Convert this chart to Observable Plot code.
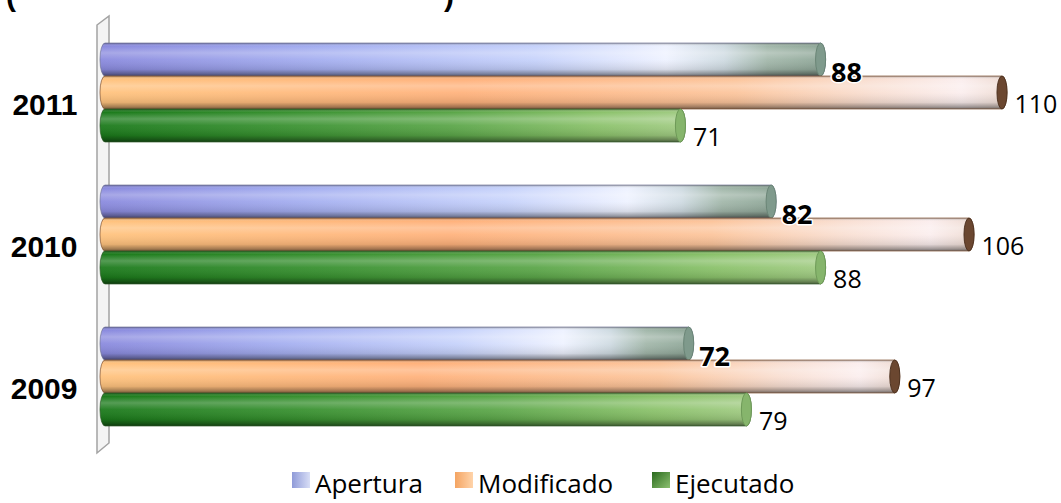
<!DOCTYPE html>
<html>
<head>
<meta charset="utf-8">
<script src="https://cdn.jsdelivr.net/npm/d3@7"></script>
<script src="https://cdn.jsdelivr.net/npm/@observablehq/plot@0.6"></script>
<style>
  html, body { margin: 0; padding: 0; background: #fff; }
  body { position: relative; width: 1061px; height: 503px; overflow: hidden; font-family: "Open Sans", sans-serif; }
  #title { position: absolute; left: 0; top: -21px; font: bold 30px "Liberation Sans", Arial, sans-serif; color: #000; white-space: pre; }
  #title span { position: absolute; top: 0; }
  #chart { position: absolute; left: 0; top: 0; }
  #legend { position: absolute; top: 466px; left: 0; width: 1061px; height: 37px; font: 26px/34px "Open Sans", sans-serif; color: #000; }
  .item { position: absolute; top: 0; display: flex; align-items: flex-start; white-space: nowrap; }
  .sw { width: 18px; height: 16px; margin-right: 5px; margin-top: 6px; }
</style>
</head>
<body>
<div id="title"><span style="left:6px">(</span><span style="left:444px">)</span></div>
<div id="chart"></div>
<div id="legend"></div>
<script>
const years = ["2011", "2010", "2009"];
const series = ["Apertura", "Modificado", "Ejecutado"];
const apertura = [88, 82, 72];
const modificado = [110, 106, 97];
const ejecutado = [71, 88, 79];

const seriesValues = {Apertura: apertura, Modificado: modificado, Ejecutado: ejecutado};
const data = [];
years.forEach((yr, i) => series.forEach(s => data.push({year: yr, series: s, value: seriesValues[s][i]})));

const ids = {Apertura: "gA", Modificado: "gM", Ejecutado: "gE"};
const caps = {Apertura: "#7f9a8c", Modificado: "#6b4730", Ejecutado: "#86b56c"};
const capStroke = {Apertura: "#6a8576", Modificado: "#4e3220", Ejecutado: "#6e9a58"};
const edge = {Apertura: "#6f7394", Modificado: "#7a4a2a", Ejecutado: "#2f5a2a"};

const W = 1061, H = 462;
const barOpts = {rx: 5, ry: 16};
const marks = [];
for (const s of series) {
  const sub = data.filter(d => d.series === s);
  marks.push(Plot.barX(sub, {x: "value", y: "series", fy: "year", fill: `url(#${ids[s]})`, ...barOpts}));
  marks.push(Plot.barX(sub, {x: "value", y: "series", fy: "year", fill: "url(#shade)", stroke: edge[s], strokeWidth: 0.9, strokeOpacity: 0.75, ...barOpts}));
  marks.push(Plot.barX(sub, {x1: "value", x2: "value", y: "series", fy: "year", insetLeft: -5, insetRight: -5, dx: -5, fill: caps[s], stroke: capStroke[s], strokeWidth: 1, ...barOpts}));
}
marks.push(Plot.text(data.filter(d => d.series === "Apertura"), {
  x: "value", y: "series", fy: "year", text: d => String(d.value),
  dx: 5, dy: 13, textAnchor: "start", fontSize: 27, fontWeight: "bold", fontFamily: "Open Sans",
  fill: "#000", stroke: "#fff", strokeWidth: 3, paintOrder: "stroke"
}));
marks.push(Plot.text(data.filter(d => d.series !== "Apertura"), {
  x: "value", y: "series", fy: "year", text: d => String(d.value),
  dx: 7, dy: 12, textAnchor: "start", fontSize: 25, fontFamily: "Open Sans", fill: "#000"
}));
marks.push(Plot.axisFy({anchor: "left", tickSize: 0, tickPadding: 23, fontSize: 30, fontWeight: "bold",
  fontFamily: "Liberation Sans, Arial, sans-serif", dy: 12, label: null}));

const plot = Plot.plot({
  width: W, height: H,
  marginLeft: 100, marginRight: 54, marginTop: 43, marginBottom: 35,
  style: {background: "transparent", overflow: "visible"},
  x: {domain: [0, 110], axis: null},
  y: {domain: series, padding: 0, axis: null},
  fy: {domain: years, paddingInner: 0.3, paddingOuter: 0, axis: null, label: null},
  marks
});
document.getElementById("chart").appendChild(plot);

// gradients
const svg = d3.select(plot);
const defs = svg.insert("defs", ":first-child");
function hgrad(id, stops) {
  const g = defs.append("linearGradient").attr("id", id).attr("x1", 0).attr("y1", 0).attr("x2", 1).attr("y2", 0);
  stops.forEach(([o, c]) => g.append("stop").attr("offset", o).attr("stop-color", c));
}
hgrad("gA", [[0, "#8a8ade"], [0.3, "#a4aef0"], [0.6, "#c6d2fb"], [0.78, "#eef2ff"], [0.86, "#cfdbe2"], [0.92, "#a3b8ab"], [1, "#8ea697"]]);
hgrad("gM", [[0, "#ffc37e"], [0.4, "#ffb27c"], [0.7, "#fcc59c"], [0.85, "#f9dfd2"], [0.95, "#fbeeee"], [1, "#efdcd3"]]);
hgrad("gE", [[0, "#1b7a1b"], [0.3, "#37902f"], [0.6, "#5ba649"], [0.85, "#8bc26b"], [1, "#a2cc84"]]);
const sh = defs.append("linearGradient").attr("id", "shade").attr("x1", 0).attr("y1", 0).attr("x2", 0).attr("y2", 1);
[[0, "#000", 0.35], [0.1, "#fff", 0.0], [0.3, "#fff", 0.25], [0.5, "#fff", 0.06], [0.8, "#000", 0.1], [0.93, "#000", 0.35], [1, "#000", 0.55]]
  .forEach(([o, c, a]) => sh.append("stop").attr("offset", o).attr("stop-color", c).attr("stop-opacity", a));

// 3D wall behind bars
const x0 = plot.scale("x").apply(0);
const wallTop = 43 - 27, wallBot = H - 35 + 26;
const defsNode = plot.querySelector("defs");
const wall = document.createElementNS("http://www.w3.org/2000/svg", "path");
wall.setAttribute("d", `M${x0 - 3},${wallTop + 9} L${x0 + 9},${wallTop} L${x0 + 9},${wallBot - 10} L${x0 - 3},${wallBot} Z`);
wall.setAttribute("fill", "#f4f4f4");
wall.setAttribute("stroke", "#a3a3a3");
wall.setAttribute("stroke-width", "1.5");
defsNode.after(wall);

// legend
const swatch = {
  Apertura: "linear-gradient(90deg, #8f9ad8, #d8def6)",
  Modificado: "linear-gradient(90deg, #f4a462, #ffd4aa)",
  Ejecutado: "linear-gradient(135deg, #2a6a1e, #8cc070)"
};
const legendLeft = {Apertura: 292, Modificado: 455, Ejecutado: 652};
const lg = document.getElementById("legend");
series.forEach(s => {
  const it = document.createElement("div"); it.className = "item"; it.style.left = legendLeft[s] + "px";
  const sw = document.createElement("div"); sw.className = "sw"; sw.style.background = swatch[s];
  const tx = document.createElement("span"); tx.textContent = s;
  it.appendChild(sw); it.appendChild(tx); lg.appendChild(it);
});
</script>
</body>
</html>
